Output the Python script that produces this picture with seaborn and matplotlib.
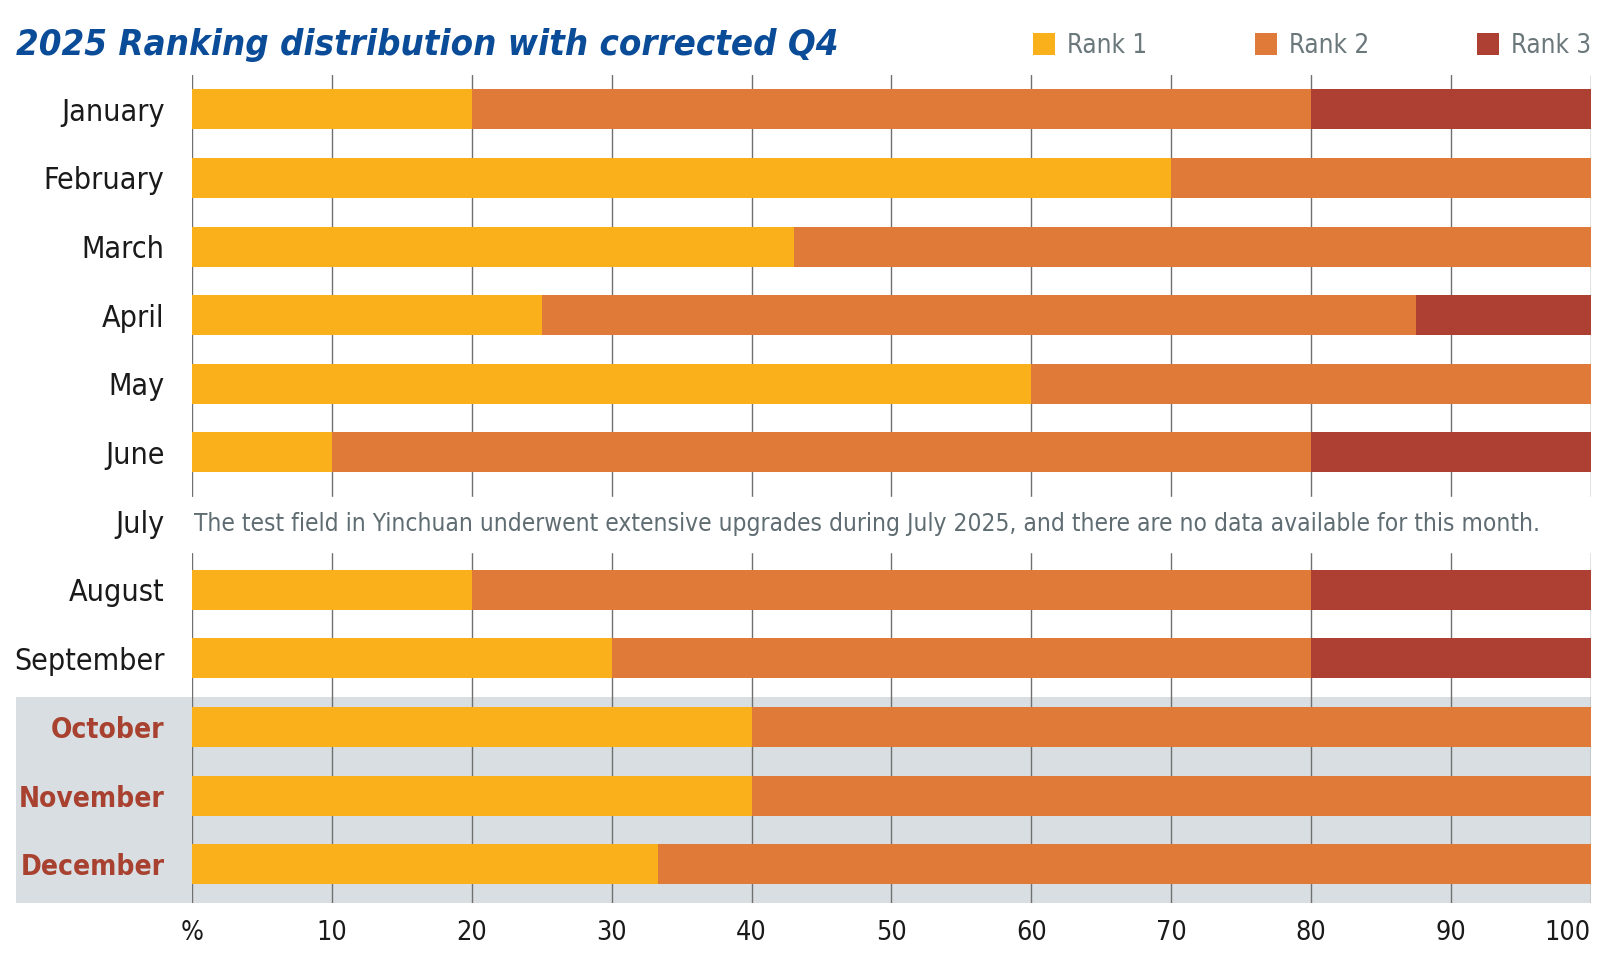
import os
import matplotlib
matplotlib.use("Agg")
import matplotlib.pyplot as plt
from matplotlib import font_manager
from matplotlib.font_manager import FontProperties
from matplotlib.patches import Rectangle
import matplotlib.transforms as mtransforms
import pandas as pd
import seaborn as sns

# ---------------- data ----------------
months = ["January", "February", "March", "April", "May", "June", "July",
          "August", "September", "October", "November", "December"]
data_months = ["January", "February", "March", "April", "May", "June",
               "August", "September", "October", "November", "December"]
rank1 = [20, 70, 43, 25, 60, 10, 20, 30, 40, 40, 33.3]
rank2 = [60, 30, 57, 62.5, 40, 70, 60, 50, 60, 60, 66.7]
rank3 = [20, 0, 0, 12.5, 0, 20, 20, 20, 0, 0, 0]
q4_months = ["October", "November", "December"]
series_names = ["Rank 1", "Rank 2", "Rank 3"]
x_ticks = [0, 10, 20, 30, 40, 50, 60, 70, 80, 90, 100]
x_tick_labels = ["%", "10", "20", "30", "40", "50", "60", "70", "80", "90", "100"]
title = "2025 Ranking distribution with corrected Q4"
note = ("The test field in Yinchuan underwent extensive upgrades during July 2025, "
        "and there are no data available for this month.")

# ---------------- style ----------------
C1, C2, C3 = "#F9B01B", "#E07A38", "#AD4033"
BAND = "#D8DEE1"
TITLE_C = "#0B4C98"
Q4_C = "#A8412F"
LEG_C = "#6A777B"
NOTE_C = "#5F6D72"

sns.set_theme(style="white")
plt.rcParams["font.family"] = ["DejaVu Sans"]


def find_font(patterns):
    files = [f.fname for f in font_manager.fontManager.ttflist]
    for p in patterns:
        for fn in files:
            if os.path.basename(fn).lower().startswith(p.lower()):
                return fn
    return None


REG = find_font(["LiberationSansNarrow-Regular", "DejaVuSansCondensed.ttf",
                 "RobotoCondensed-Regular"])
BOLD = find_font(["LiberationSansNarrow-Bold.", "DejaVuSansCondensed-Bold.",
                  "RobotoCondensed-Bold"])
BI = find_font(["LiberationSansNarrow-BoldItalic", "DejaVuSansCondensed-BoldOblique",
                "RobotoCondensed-BoldItalic"])


def fp(fname, size, weight="normal", style="normal"):
    if fname:
        return FontProperties(fname=fname, size=size)
    return FontProperties(family="DejaVu Sans", size=size, weight=weight, style=style)


df = pd.DataFrame({"month": data_months, "r1": rank1, "r2": rank2, "r3": rank3})
df["c1"] = df["r1"]
df["c2"] = df["r1"] + df["r2"]
df["c3"] = df["r1"] + df["r2"] + df["r3"]

W, H = 1610, 960
fig = plt.figure(figsize=(W / 100, H / 100), dpi=100)
x0, x1 = 192.3, 1590.5
y_top, y_bot = 75, 903.3
ax = fig.add_axes([x0 / W, 1 - y_bot / H, (x1 - x0) / W, (y_bot - y_top) / H])
renderer = fig.canvas.get_renderer()
PX = 100 / 72  # pixels per point


def fit_size(text, target_px, fname, weight="normal", style="normal", base=20):
    t = fig.text(0, 0, text, fontproperties=fp(fname, base, weight, style))
    w = t.get_window_extent(renderer).width
    t.remove()
    return base * target_px / w


bw = 0.583
for col, c, lab in [("c3", C3, series_names[2]), ("c2", C2, series_names[1]),
                    ("c1", C1, series_names[0])]:
    sns.barplot(data=df, y="month", x=col, order=months, color=c, width=bw,
                saturation=1, errorbar=None, orient="h", ax=ax, linewidth=0,
                label=lab)
if ax.get_legend() is not None:
    ax.get_legend().remove()

ax.set_xlim(0, 100)
ax.set_ylim(11.57, -0.5)
ax.set_xlabel("")
ax.set_ylabel("")
for s in ax.spines.values():
    s.set_visible(False)
ax.set_axisbelow(True)
ax.xaxis.grid(True, color="#707070", linewidth=1.0)
ax.yaxis.grid(False)
ax.set_facecolor("none")

# Q4 band
trans = mtransforms.blended_transform_factory(ax.transAxes, ax.transData)
bx = (16 - x0) / (x1 - x0)
ax.add_patch(Rectangle((bx, 8.56), 1 - bx, 11.57 - 8.56, transform=trans,
                       facecolor=BAND, edgecolor="none", clip_on=False, zorder=0.1))
# July gap and note
ax.axhspan(5.645, 6.446, color="white", zorder=1)
note_size = fit_size(note, 1338, REG)
ax.text(0.1, 6.04, note, color=NOTE_C, fontproperties=fp(REG, note_size),
        va="center", ha="left", zorder=3)

# month labels
msize = fit_size("September", 150, REG)
bsize = fit_size("November", 146, BOLD, weight="bold")
ax.set_yticks(range(len(months)))
ax.set_yticklabels(months)
ax.tick_params(axis="y", length=0, pad=20)
for t in ax.get_yticklabels():
    if t.get_text() in q4_months:
        t.set_fontproperties(fp(BOLD, bsize, weight="bold"))
        t.set_color(Q4_C)
    else:
        t.set_fontproperties(fp(REG, msize))
        t.set_color("#1a1a1a")

ax.set_xticks(x_ticks)
ax.set_xticklabels(x_tick_labels)
ax.tick_params(axis="x", length=0, pad=12)
tsize = fit_size("100", 46, REG)
xl = ax.get_xticklabels()
for t in xl:
    t.set_fontproperties(fp(REG, tsize))
    t.set_color("#1a1a1a")
xl[-1].set_horizontalalignment("right")

title_size = fit_size(title, 822, BI, weight="bold", style="italic")
fig.text(16 / W, 1 - 45 / H, title, color=TITLE_C,
         fontproperties=fp(BI, title_size, weight="bold", style="italic"),
         ha="left", va="center")

lsize = fit_size("Rank 1", 80, REG)
lpx = lsize * PX
handles, labels = ax.get_legend_handles_labels()
order = [labels.index(n) for n in series_names]
leg = fig.legend([handles[i] for i in order], [labels[i] for i in order],
                 loc="center right", bbox_to_anchor=(1591 / W, 1 - 46 / H), ncol=3,
                 frameon=False, prop=fp(REG, lsize), handlelength=22 / lpx,
                 handleheight=24 / lpx, handletextpad=12 / lpx,
                 columnspacing=108 / lpx, borderaxespad=0, borderpad=0)
for t in leg.get_texts():
    t.set_color(LEG_C)

fig.savefig("out.png", dpi=100)
